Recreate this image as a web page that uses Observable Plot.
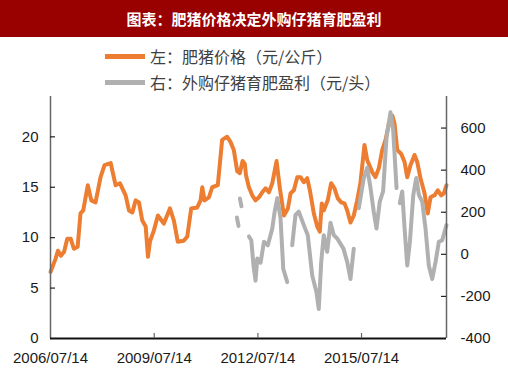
<!DOCTYPE html>
<html>
<head>
<meta charset="utf-8">
<script src="https://cdn.jsdelivr.net/npm/d3@7"></script>
<script src="https://cdn.jsdelivr.net/npm/@observablehq/plot@0.6"></script>
<style>
  html, body { margin: 0; padding: 0; background: #fff; }
  #wrap { position: relative; width: 508px; height: 380px; overflow: hidden; font-family: "Liberation Sans", Arial, sans-serif; }
  #title { height: 37px; background: #990000; color: #fff; font-family: "Noto Sans CJK SC", sans-serif; font-weight: bold; font-size: 15px; line-height: 37px; text-align: center; }
  #legend { position: absolute; left: 0; top: 37px; width: 508px; }
  .item { position: absolute; left: 105px; height: 20px; display: flex; align-items: center; font-family: "Noto Sans CJK SC", sans-serif; font-size: 16px; color: #404040; white-space: nowrap; }
  .sw { width: 40px; height: 5px; margin-right: 5px; }
</style>
</head>
<body>
<div id="wrap">
  <div id="title">图表：肥猪价格决定外购仔猪育肥盈利</div>
  <div id="chart"></div>
  <div id="legend"></div>
</div>
<script>
const titleText = "图表：肥猪价格决定外购仔猪育肥盈利";
const seriesNames = ["左：肥猪价格（元/公斤）", "右：外购仔猪育肥盈利（元/头）"];
const seriesColors = ["#ED7D31", "#B0B0B0"];

const priceDates = ["2006-07-14","2006-09-05","2006-10-01","2006-11-01","2006-12-05","2007-01-07","2007-02-12","2007-03-18","2007-04-27","2007-05-27","2007-06-25","2007-08-12","2007-09-18","2007-11-02","2007-12-25","2008-02-05","2008-04-10","2008-06-01","2008-07-16","2008-09-15","2008-10-20","2008-11-25","2008-12-30","2009-02-03","2009-03-10","2009-04-15","2009-05-09","2009-05-30","2009-07-10","2009-08-22","2009-10-24","2009-12-27","2010-02-07","2010-03-20","2010-05-22","2010-06-28","2010-08-09","2010-10-12","2010-11-16","2010-12-04","2010-12-28","2011-02-12","2011-03-19","2011-05-17","2011-07-02","2011-08-24","2011-09-28","2011-11-02","2011-12-08","2012-01-05","2012-02-03","2012-02-27","2012-03-10","2012-04-10","2012-05-15","2012-06-19","2012-07-24","2012-08-29","2012-10-03","2012-11-07","2012-12-13","2013-01-27","2013-02-14","2013-03-03","2013-04-15","2013-05-27","2013-06-24","2013-07-29","2013-09-03","2013-10-08","2013-11-11","2013-12-17","2014-01-14","2014-02-25","2014-04-02","2014-04-29","2014-05-20","2014-06-10","2014-07-22","2014-08-27","2014-10-01","2014-11-05","2014-12-11","2015-01-15","2015-02-13","2015-03-19","2015-04-23","2015-05-29","2015-07-02","2015-08-14","2015-09-12","2015-11-04","2015-12-08","2016-01-13","2016-02-18","2016-03-24","2016-04-28","2016-06-03","2016-06-27","2016-07-25","2016-09-06","2016-10-11","2016-11-08","2016-12-13","2017-01-24","2017-02-22","2017-03-28","2017-05-10","2017-06-13","2017-07-12","2017-08-23","2017-09-27","2017-11-02","2017-11-30","2017-12-28"];
const priceValues = [6.6,7.9,8.7,8.2,8.6,9.9,9.9,8.9,9.1,12.4,12.7,15.2,13.7,13.5,16.0,17.2,17.4,15.2,15.4,14.2,12.7,12.5,13.7,13.5,11.7,11.1,8.1,9.6,10.7,12.2,11.4,12.9,11.7,9.6,9.7,10.1,12.9,13.0,13.7,15.0,13.7,14.0,15.0,15.2,19.7,20.0,19.5,18.7,16.6,16.4,17.6,17.3,16.2,15.0,14.2,13.7,14.0,14.5,14.9,14.5,15.4,17.6,16.2,14.9,12.2,12.9,14.4,14.7,16.0,16.0,15.5,15.9,14.7,12.4,11.1,10.6,13.4,12.7,13.7,15.4,14.9,13.9,13.5,13.4,12.7,11.5,12.2,13.7,15.4,19.2,17.7,16.5,16.0,16.9,18.7,19.7,21.3,22.1,21.3,18.7,18.3,17.5,16.0,17.2,18.2,17.5,15.9,14.4,12.4,14.0,14.2,14.7,14.2,14.4,15.2];

const profitDates = ["2011-12-05","2011-12-22","2011-12-30","2012-01-06","2012-01-22","2012-02-20","2012-04-10","2012-05-05","2012-05-30","2012-06-19","2012-07-07","2012-08-11","2012-09-16","2012-10-27","2012-12-13","2013-01-06","2013-02-04","2013-03-10","2013-04-08","2013-05-20","2013-06-10","2013-07-11","2013-08-15","2013-09-19","2013-11-11","2013-12-23","2014-02-08","2014-03-25","2014-04-18","2014-05-14","2014-06-10","2014-07-16","2014-08-20","2014-09-24","2014-10-30","2015-01-04","2015-02-13","2015-03-19","2015-04-23","2015-05-15","2015-06-15","2015-08-07","2015-09-12","2015-10-17","2015-11-20","2015-12-19","2016-01-23","2016-02-27","2016-04-03","2016-05-15","2016-06-13","2016-07-18","2016-08-01","2016-08-22","2016-09-16","2016-10-11","2016-11-08","2016-12-06","2017-01-11","2017-02-12","2017-03-11","2017-04-15","2017-05-20","2017-06-24","2017-07-30","2017-09-03","2017-10-08","2017-11-13","2017-12-17","2017-12-28"];
const profitValues = [175,135,null,265,228,null,85,67,-60,-125,-20,-40,60,43,123,200,267,171,-69,-132,null,43,187,203,139,91,-101,-180,-260,-36,91,12,150,91,75,27,-37,-117,27,null,219,363,411,315,203,123,251,299,555,675,587,315,null,243,299,123,-53,59,283,363,283,251,123,-53,-117,-37,59,67,123,139];

const xDomain = ["2006-07-14", "2017-12-28"];
const xTickDates = ["2006-07-14", "2009-07-14", "2012-07-14", "2015-07-14"];
const leftDomain = [0, 24];
const leftTicks = [0, 5, 10, 15, 20];
const rightDomain = [-400, 750];
const rightTicks = [-400, -200, 0, 200, 400, 600];

const parse = s => new Date(s + "T00:00:00Z");
const toLeft = v => v == null ? NaN : leftDomain[0] + (v - rightDomain[0]) * (leftDomain[1] - leftDomain[0]) / (rightDomain[1] - rightDomain[0]);
const toRight = y => Math.round(rightDomain[0] + (y - leftDomain[0]) * (rightDomain[1] - rightDomain[0]) / (leftDomain[1] - leftDomain[0]));

const price = priceDates.map((d, i) => ({date: parse(d), value: priceValues[i]}));
const profit = profitDates.map((d, i) => ({date: parse(d), value: toLeft(profitValues[i])}));

const W = 508, H = 343;
const mL = 50, mR = 62, mT = 59, mB = 42;
const frameW = W - mL - mR, frameH = H - mT - mB;
const tickLen = 5;

const plot = Plot.plot({
  width: W, height: H,
  marginLeft: mL, marginRight: mR, marginTop: mT, marginBottom: mB,
  style: {fontFamily: "'Liberation Sans', Arial, sans-serif", fontSize: "15px", color: "#1a1a1a", background: "#fff", overflow: "visible"},
  x: {type: "utc", domain: xDomain.map(parse)},
  y: {domain: leftDomain},
  marks: [
    Plot.line(price, {x: "date", y: "value", stroke: seriesColors[0], strokeWidth: 4, strokeLinejoin: "round"}),
    Plot.line(profit, {x: "date", y: "value", stroke: seriesColors[1], strokeWidth: 4, strokeLinejoin: "round"}),
    Plot.ruleX([parse(xDomain[0])], {stroke: "#666", strokeWidth: 1.5}),
    Plot.ruleX([parse(xDomain[1])], {stroke: "#666", strokeWidth: 1.5}),
    Plot.ruleY([leftDomain[0]], {stroke: "#111", strokeWidth: 2}),
    Plot.ruleY(leftTicks.slice(1), {stroke: "#222", strokeWidth: 1.2, insetRight: frameW - tickLen}),
    Plot.ruleY(rightTicks.slice(1).map(toLeft), {stroke: "#222", strokeWidth: 1.2, insetLeft: frameW - tickLen}),
    Plot.ruleX(xTickDates.slice(1).map(parse), {stroke: "#666", strokeWidth: 1.2, insetTop: frameH - tickLen}),
    Plot.axisY(leftTicks, {anchor: "left", tickSize: 0, tickPadding: 12, label: null}),
    Plot.axisY(rightTicks.map(toLeft), {anchor: "right", tickSize: 0, tickPadding: 14, tickFormat: toRight, label: null, textAnchor: "start"}),
    Plot.axisX(xTickDates.map(parse), {anchor: "bottom", tickSize: 0, tickPadding: 14, tickFormat: d3.utcFormat("%Y/%m/%d"), label: null})
  ]
});
document.getElementById("chart").appendChild(plot);

const legend = document.getElementById("legend");
seriesNames.forEach((name, i) => {
  const item = document.createElement("div");
  item.className = "item";
  item.style.top = (9 + i * 26) + "px";
  const sw = document.createElement("div");
  sw.className = "sw";
  sw.style.background = seriesColors[i];
  const t = document.createElement("span");
  t.textContent = name;
  item.appendChild(sw);
  item.appendChild(t);
  legend.appendChild(item);
});
</script>
</body>
</html>
